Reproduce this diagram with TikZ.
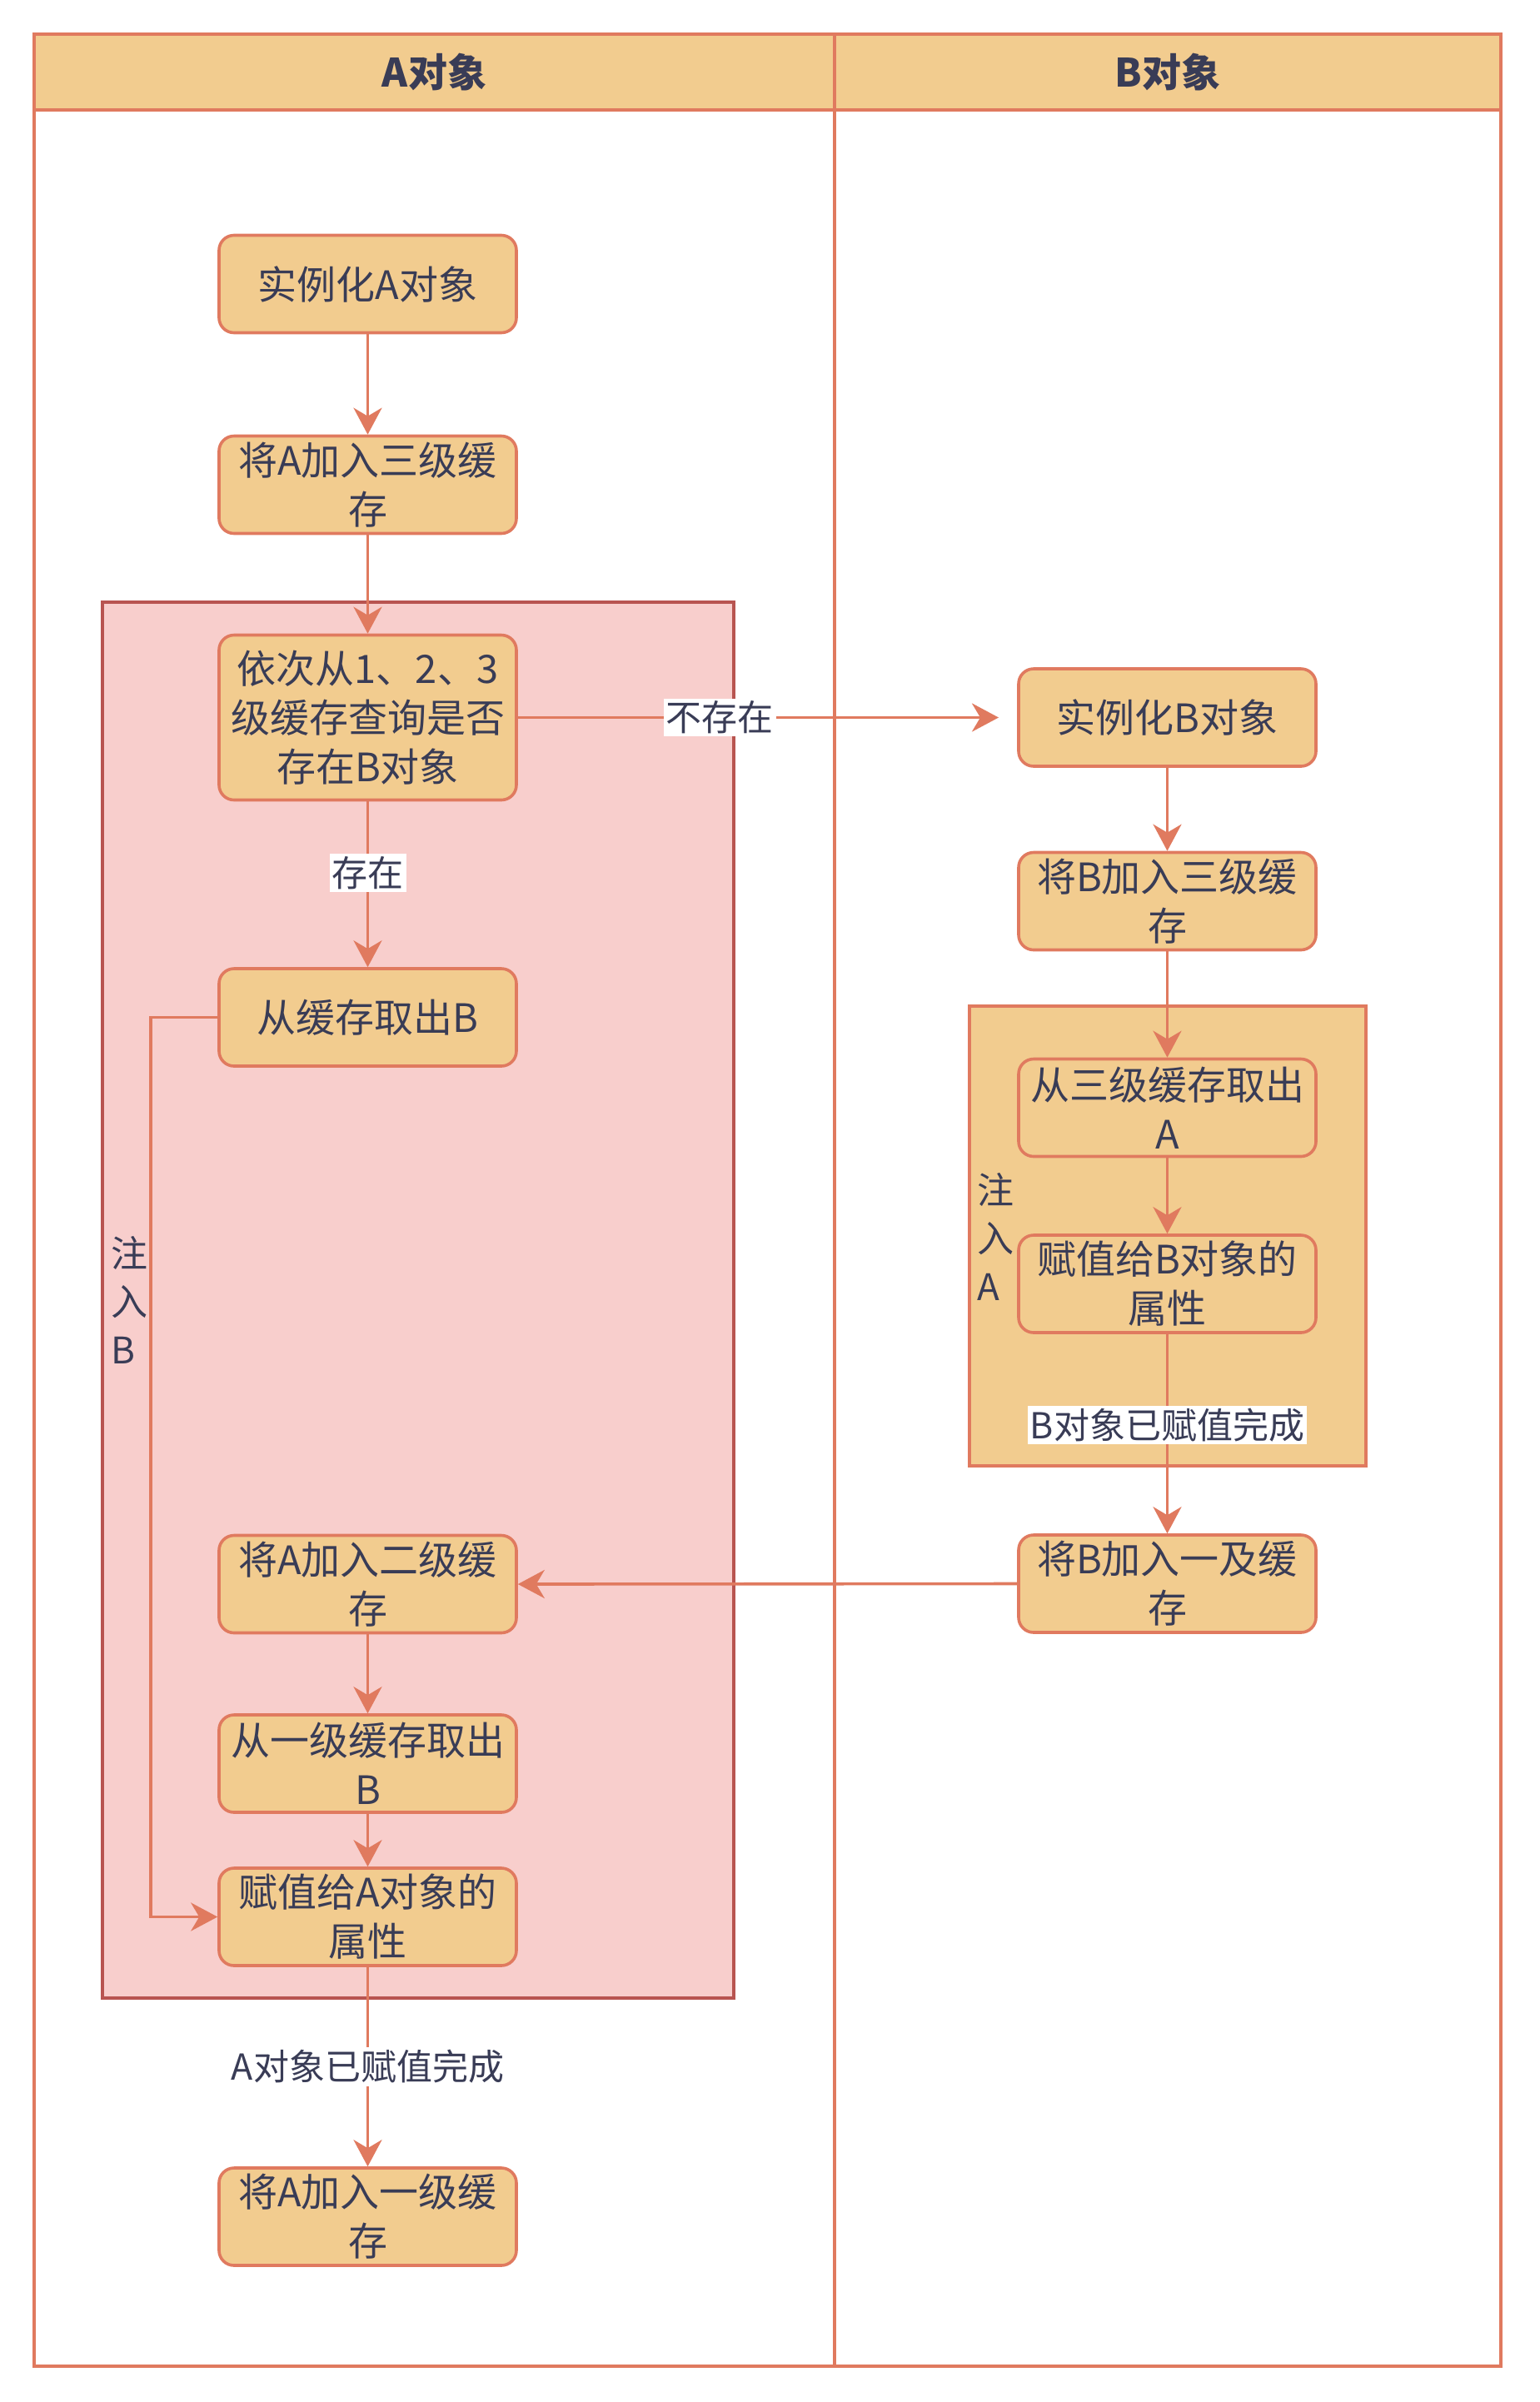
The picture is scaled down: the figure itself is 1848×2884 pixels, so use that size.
\documentclass[tikz,border=0pt]{standalone}
\usepackage{fontspec}
\setmainfont{Noto Sans CJK SC}
\usetikzlibrary{arrows.meta}
\definecolor{boxfill}{HTML}{F2CC8F}
\definecolor{boxline}{HTML}{E07A5F}
\definecolor{txt}{HTML}{393C56}
\definecolor{pinkfill}{HTML}{F8CECC}
\definecolor{pinkline}{HTML}{B85450}
\tikzset{
  stepbox/.style={draw=boxline, fill=boxfill, line width=3.6pt, rounded corners=18pt,
    minimum width=357pt, minimum height=117pt, inner sep=0pt, align=center, text=txt,
    font=\fontsize{47}{59}\selectfont},
  arr/.style={draw=boxline, line width=3.6pt, -{Stealth[length=32pt,width=34pt,inset=10pt]}},
  elabel/.style={fill=white, text=txt, inner sep=3pt, font=\fontsize{43}{56}\selectfont},
  sidelabel/.style={text=txt, inner sep=2pt, align=left, font=\fontsize{44}{58}\selectfont},
  hdr/.style={text=txt, inner sep=0pt, font=\fontsize{47}{59}\selectfont\bfseries},
  lane/.style={draw=boxline, line width=3.6pt},
}
\begin{document}
\begin{tikzpicture}[x=1pt,y=-1pt]
\useasboundingbox (0,0) rectangle (1848,2884);
% pool
\draw[lane, fill=white] (41,41) rectangle (1802,2841);
\draw[lane, fill=boxfill] (41,41) rectangle (1802,132);
\draw[lane] (1002,41) -- (1002,2841);
\node[hdr] (hA) at (521.5,86.5) {A对象};
\node[hdr] (hB) at (1402,86.5) {B对象};
% containers
\node[draw=pinkline, fill=pinkfill, line width=3.6pt, minimum width=758pt, minimum height=1676pt, inner sep=0pt] (grpA) at (502,1561) {};
\node[draw=boxline, fill=boxfill, line width=3.6pt, minimum width=476pt, minimum height=552pt, inner sep=0pt] (grpB) at (1402,1484) {};
\node[sidelabel, anchor=west] (injA) at (1171,1485) {注\\入\\A};
% A lane nodes
\node[stepbox] (a1) at (441.5,341) {实例化A对象};
\node[stepbox] (a2) at (441.5,582) {将A加入三级缓\\存};
\node[stepbox, minimum height=198pt] (a3) at (441.5,861.5) {依次从1、2、3\\级缓存查询是否\\存在B对象};
\node[stepbox] (a4) at (441.5,1221.5) {从缓存取出B};
\node[stepbox] (a5) at (441.5,1902) {将A加入二级缓\\存};
\node[stepbox] (a6) at (441.5,2117.5) {从一级缓存取出\\B};
\node[stepbox] (a7) at (441.5,2301.5) {赋值给A对象的\\属性};
\node[stepbox] (a8) at (441.5,2661.5) {将A加入一级缓\\存};
% B lane nodes
\node[stepbox] (b1) at (1401.5,861.5) {实例化B对象};
\node[stepbox] (b2) at (1401.5,1082) {将B加入三级缓\\存};
\node[stepbox] (b3) at (1401.5,1330) {从三级缓存取出\\A};
\node[stepbox] (b4) at (1401.5,1541.5) {赋值给B对象的\\属性};
\node[stepbox] (b5) at (1401.5,1901.5) {将B加入一及缓\\存};
\coordinate (b1in) at (1199,861.5);
% edges
\begin{scope}[on background layer/.style={}]
\end{scope}
\draw[arr] (a1) -- (a2);
\draw[arr] (a2) -- (a3);
\draw[arr] (a3) -- node[elabel, pos=0.43] (lblExist) {存在} (a4);
\draw[arr] (a3.east) -- node[elabel, pos=0.42] (lblNot) {不存在} (b1in);
\draw[arr] (b1) -- (b2);
\draw[arr] (b2) -- (b3);
\draw[arr] (b3) -- (b4);
\draw[arr] (b4) -- node[elabel, pos=0.456] (lblBdone) {B对象已赋值完成} (b5);
\draw[arr] (b5.west) -- (a5.east);
\draw[arr] (a5) -- (a6);
\draw[arr] (a6) -- (a7);
\draw[arr] (a4.west) -- ++(-80,0) coordinate (lp) -- node[sidelabel, pos=0.314, anchor=east] (injB) {注\\入\\B} (lp |- a7.west) -- (a7.west);
\draw[arr] (a7) -- node[elabel, pos=0.5] (lblAdone) {A对象已赋值完成} (a8);
\end{tikzpicture}
\end{document}
